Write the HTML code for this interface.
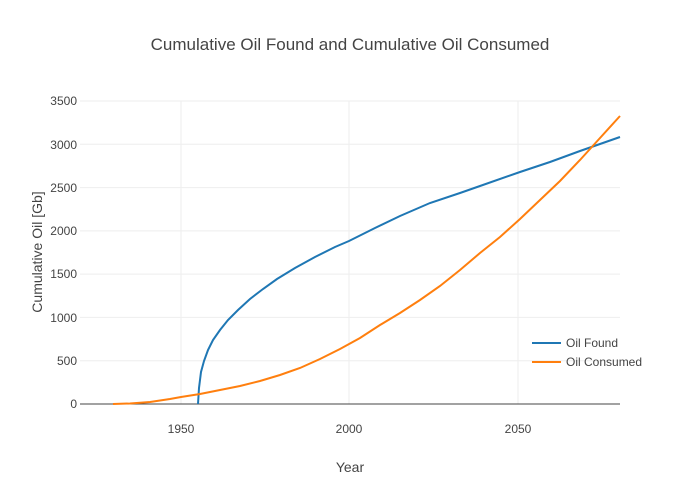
<!DOCTYPE html>
<html><head><meta charset="utf-8"><style>body{margin:0;background:#fff}svg{display:block}</style></head><body>
<svg width="700" height="500" xmlns="http://www.w3.org/2000/svg" font-family="'Liberation Sans',sans-serif">
<rect width="700" height="500" fill="#fff"/>
<text x="350" y="50" text-anchor="middle" font-size="17" fill="#444">Cumulative Oil Found and Cumulative Oil Consumed</text>
<g stroke="#eee" stroke-width="1">
<line x1="181" y1="101" x2="181" y2="404"/><line x1="349" y1="101" x2="349" y2="404"/><line x1="518" y1="101" x2="518" y2="404"/>
<line x1="80" y1="101" x2="620" y2="101"/><line x1="80" y1="144.3" x2="620" y2="144.3"/><line x1="80" y1="187.6" x2="620" y2="187.6"/><line x1="80" y1="230.9" x2="620" y2="230.9"/><line x1="80" y1="274.1" x2="620" y2="274.1"/><line x1="80" y1="317.4" x2="620" y2="317.4"/><line x1="80" y1="360.7" x2="620" y2="360.7"/>
</g>
<line x1="80" y1="404" x2="620" y2="404" stroke="#444" stroke-width="1"/>
<g font-size="12" fill="#444" text-anchor="end">
<text x="77" y="408">0</text><text x="77" y="365">500</text><text x="77" y="322">1000</text><text x="77" y="278">1500</text><text x="77" y="235">2000</text><text x="77" y="192">2500</text><text x="77" y="149">3000</text><text x="77" y="105">3500</text>
</g>
<g font-size="12" fill="#444" text-anchor="middle">
<text x="181" y="433">1950</text><text x="349" y="433">2000</text><text x="518" y="433">2050</text>
</g>
<text x="350" y="472" text-anchor="middle" font-size="14" fill="#444">Year</text>
<text transform="translate(42,252) rotate(-90)" text-anchor="middle" font-size="14" fill="#444">Cumulative Oil [Gb]</text>
<polyline fill="none" stroke="#1f77b4" stroke-width="2" points="198,404 199,388 201,372 204,361 208,350 213,340 220,330 228,320 238,310 250,299 263,289 277,279 295,268 315,257 335,247 349,241 375,228 400,216 430,203 460,193 480,186 520,172 550,162 580,151 600,144 620,137"/>
<polyline fill="none" stroke="#ff7f0e" stroke-width="2" points="113,404 130,403.5 150,402 170,399 181,397 200,394 220,390 240,386 260,381 280,375 300,368 320,359 340,349 360,338 380,325 400,313 420,300 440,286 460,270 480,253 500,237 520,219 540,200 560,181 580,160 600,138 620,116"/>
<line x1="532" y1="343" x2="561" y2="343" stroke="#1f77b4" stroke-width="2"/>
<text x="566" y="347" font-size="12" fill="#444">Oil Found</text>
<line x1="532" y1="362" x2="561" y2="362" stroke="#ff7f0e" stroke-width="2"/>
<text x="566" y="366" font-size="12" fill="#444">Oil Consumed</text>
</svg>
</body></html>
